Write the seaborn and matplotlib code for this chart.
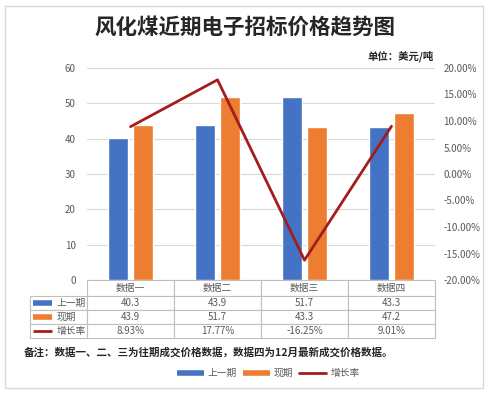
import numpy as np
import pandas as pd
import matplotlib
matplotlib.use("Agg")
import matplotlib.pyplot as plt
import seaborn as sns
from matplotlib.lines import Line2D
from matplotlib.patches import Rectangle

#--------------------Data-----------------------
categories = ["数据一", "数据二", "数据三", "数据四"]
prev_period = [40.3, 43.9, 51.7, 43.3]
curr_period = [43.9, 51.7, 43.3, 47.2]
growth_rate = [8.93, 17.77, -16.25, 9.01]
series_names = ["上一期", "现期", "增长率"]
left_ticks = [0, 10, 20, 30, 40, 50, 60]
right_ticks = [-20, -15, -10, -5, 0, 5, 10, 15, 20]

title = "风化煤近期电子招标价格趋势图"
unit = "单位：美元/吨"
note = "备注：数据一、二、三为往期成交价格数据，数据四为12月最新成交价格数据。"

blue = "#4472C4"
orange = "#ED7D31"
red = "#A51C1C"
grey_txt = "#595959"
grid_col = "#D9D9D9"

sns.set_style("white")
plt.rcParams['font.family'] = ['Noto Sans CJK SC', 'DejaVu Sans']

df = pd.DataFrame({"cat": categories * 2,
                   "value": prev_period + curr_period,
                   "series": [series_names[0]] * 4 + [series_names[1]] * 4})

#--------------------Figure-----------------------
fig = plt.figure(figsize=(4.9, 3.96), dpi=100)
fig.patches.append(Rectangle((5 / 490, 8 / 396), 478 / 490, 382 / 396, transform=fig.transFigure,
                             fill=False, edgecolor=grid_col, lw=1))

ax = fig.add_axes([87 / 490, 1 - 280 / 396, 348 / 490, 212 / 396])
sns.barplot(data=df, x="cat", y="value", hue="series", palette=[blue, orange],
            width=0.56, gap=0.18, saturation=1, ax=ax, legend=False)
ax.set_xlim(-0.5, 3.5)
ax.set_ylim(0, 60)
ax.set_yticks(left_ticks)
ax.set_xticks([])
ax.set_xlabel("")
ax.set_ylabel("")
ax.tick_params(axis="y", labelsize=7, labelcolor=grey_txt, length=0, pad=8)
ax.yaxis.grid(True, color=grid_col, lw=0.8)
ax.set_axisbelow(True)
for s in ax.spines.values():
    s.set_visible(False)

ax2 = ax.twinx()
sns.lineplot(x=np.arange(len(categories)), y=growth_rate, ax=ax2, color=red, lw=2)
ax2.set_ylim(-20, 20)
ax2.set_yticks(right_ticks)
ax2.set_yticklabels([f"{t:.2f}%" for t in right_ticks])
ax2.tick_params(axis="y", labelsize=7, labelcolor=grey_txt, length=0, pad=6)
ax2.set_xlim(-0.5, 3.5)
for s in ax2.spines.values():
    s.set_visible(False)

#--------------------Data table-----------------------
cell_text = [[""] + categories,
             [""] + [f"{v:.1f}" for v in prev_period],
             [""] + [f"{v:.1f}" for v in curr_period],
             [""] + [f"{v:.2f}%" for v in growth_rate]]
tbl = ax.table(cellText=cell_text, colWidths=[57, 87, 87, 87, 87], cellLoc="center",
               bbox=[-57 / 348, -58 / 212, 405 / 348, 58 / 212])
tbl.auto_set_font_size(False)
tbl.set_fontsize(7)
row_px = [16, 14, 14, 14]
for (r, c), cell in tbl.get_celld().items():
    cell.set_edgecolor("#BFBFBF")
    cell.set_linewidth(0.8)
    cell.set_height(row_px[r])
    cell.get_text().set_color(grey_txt)
tbl[0, 0].visible_edges = ""

swatches = [(blue, 4), (orange, 4), (red, 2)]
for i, (col, lw) in enumerate(swatches):
    yc = -(row_px[0] + 14 * i + 7) / 212
    ax.add_line(Line2D([-54 / 348, -35 / 348], [yc, yc], color=col, lw=lw,
                       transform=ax.transAxes, clip_on=False, solid_capstyle="butt"))
    ax.text(-30 / 348, yc, series_names[i], transform=ax.transAxes, fontsize=7,
            color=grey_txt, va="center", ha="left")

#--------------------Texts and legend-----------------------
fig.text(245 / 490, 1 - 27 / 396, title, fontsize=15.5, fontweight="bold",
         ha="center", va="center", color="#262626")
fig.text(434 / 490, 1 - 56 / 396, unit, fontsize=7.5, fontweight="bold",
         ha="right", va="center", color="#262626")
fig.text(24 / 490, 1 - 352 / 396, note, fontsize=7.6, fontweight="bold",
         ha="left", va="center", color="#262626")

handles = [Line2D([], [], color=blue, lw=4, solid_capstyle="butt"),
           Line2D([], [], color=orange, lw=4, solid_capstyle="butt"),
           Line2D([], [], color=red, lw=2)]
leg = fig.legend(handles, series_names, loc="center", bbox_to_anchor=(268 / 490, 1 - 373 / 396),
                 ncol=3, frameon=False, fontsize=7, handlelength=2.8, columnspacing=0.6,
                 handletextpad=0.4)
for t in leg.get_texts():
    t.set_color(grey_txt)

fig.savefig("out.png", dpi=100)
